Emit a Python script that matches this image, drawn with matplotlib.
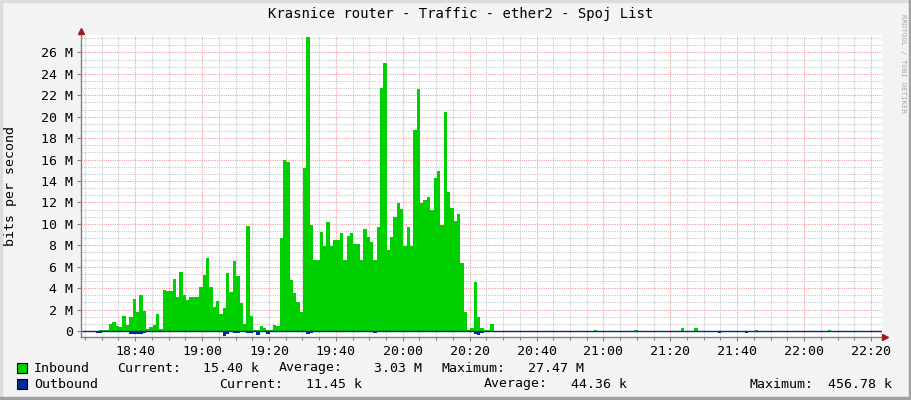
import numpy as np
import matplotlib.pyplot as plt
from matplotlib.ticker import FixedLocator, MultipleLocator
from matplotlib.patches import Rectangle

# inbound traffic in Mbit/s, one value per minute, first one at 18:32:12
inbound = [0.65, 0.84, 0.5, 0.4, 1.4, 0.56, 1.3, 3.0, 1.78, 3.36,
           1.87, 0.15, 0.4, 0.56, 1.59, 0.2, 3.83, 3.74, 3.74, 4.86,
           3.2, 5.5, 3.4, 2.9, 3.15, 3.15, 3.2, 4.14, 5.23, 6.79,
           4.14, 2.27, 2.8, 1.59, 2.18, 5.39, 3.68, 6.54, 5.14, 2.59,
           0.65, 9.8, 1.4, 0.06, 0.06, 0.47, 0.31, 0.1, 0.1, 0.56,
           0.5, 8.66, 16.0, 15.8, 4.77, 3.52, 2.74, 1.8, 15.2, 27.47,
           9.9, 6.6, 6.6, 9.2, 7.9, 10.2, 7.9, 8.5, 8.5, 9.1,
           6.6, 8.9, 9.1, 8.1, 8.1, 6.6, 9.5, 8.8, 8.3, 6.6,
           9.7, 22.7, 25.0, 7.6, 8.8, 10.6, 11.9, 11.4, 7.9, 9.7,
           7.9, 18.8, 22.6, 11.9, 12.2, 12.5, 11.3, 14.3, 14.9, 9.9,
           20.4, 13.0, 11.5, 10.3, 10.9, 6.3, 1.8, 0.1, 0.25, 4.55,
           1.34, 0.3, 0.05, 0.05, 0.65]
in_start = 32.2  # minutes after 18:00

# little inbound blips outside the transfer (minutes after 18:00, Mbit/s)
blip_t = [29.5, 30.5, 31.5, 177.9, 189.3, 203.4, 207.3, 225.3, 247.8]
blip_v = [0.1, 0.1, 0.1, 0.1, 0.1, 0.25, 0.25, 0.08, 0.1]

# outbound traffic (drawn below zero)
out_t = [28, 29, 38, 39, 40, 41, 42, 56, 57, 58, 59, 60, 61, 66, 67,
         69, 70, 73, 74, 76, 79, 91, 92, 111, 141, 142, 143,
         186, 192, 214, 222, 230]
out_v = [0.2, 0.2, 0.25, 0.3, 0.3, 0.28, 0.2, 0.08, 0.08, 0.08, 0.08, 0.08, 0.08, 0.457, 0.3,
         0.2, 0.15, 0.2, 0.2, 0.35, 0.25, 0.25, 0.2, 0.15, 0.3, 0.35, 0.2,
         0.12, 0.12, 0.15, 0.15, 0.12]

x_ticks = [40, 60, 80, 100, 120, 140, 160, 180, 200, 220, 240, 260]
x_labels = ['18:40', '19:00', '19:20', '19:40', '20:00', '20:20',
            '20:40', '21:00', '21:20', '21:40', '22:00', '22:20']
y_ticks = [0, 2, 4, 6, 8, 10, 12, 14, 16, 18, 20, 22, 24, 26]
y_labels = ['0'] + ['%d M' % v for v in y_ticks[1:]]

GREEN = '#00CF00'
BLUE = '#002A97'
MONO = 'DejaVu Sans Mono'
W, H = 911, 400

# one-minute grid over the whole window
t0 = 23.2
t = np.arange(t0, 265.0, 1.0)
in_full = np.zeros(len(t))
out_full = np.zeros(len(t))
for i, v in enumerate(inbound):
    in_full[int(round(in_start + i - t0))] = v
for bt, bv in zip(blip_t, blip_v):
    in_full[int(bt - t0)] = bv
for ot, ov in zip(out_t, out_v):
    out_full[int(round(ot - t0))] = ov

fig = plt.figure(figsize=(W / 100, H / 100), dpi=100)
fig.patch.set_facecolor('#F3F3F3')
ax = fig.add_axes([81 / W, 1 - 337 / H, 801 / W, 302 / H])
ax.set_facecolor('white')

ax.fill_between(t, 0, in_full, step='post', color=GREEN, lw=0, zorder=3)
ax.fill_between(t, 0, -out_full, step='post', color=BLUE, lw=0, zorder=3)
ax.axhline(0, color=BLUE, lw=1, zorder=4)

ax.set_xlim(23.8, 263.3)
ax.set_ylim(-0.56, 27.62)

ax.xaxis.set_major_locator(FixedLocator(x_ticks))
ax.set_xticklabels(x_labels)
ax.xaxis.set_minor_locator(MultipleLocator(5))
ax.yaxis.set_major_locator(FixedLocator(y_ticks))
ax.set_yticklabels(y_labels)
ax.yaxis.set_minor_locator(MultipleLocator(2 / 3))

ax.grid(which='minor', color='#c8c8c8', linestyle=(0, (1, 1)), lw=0.8, zorder=1)
ax.grid(which='major', color='#f2a0a0', linestyle=(0, (1, 1)), lw=0.8, zorder=2)
ax.set_axisbelow(True)

ax.tick_params(which='both', direction='out', color='#808080', width=0.8)
ax.tick_params(which='major', length=3, labelsize=9.5, pad=3)
ax.tick_params(which='minor', length=2)
ax.tick_params(axis='y', which='minor', length=0)
for lab in ax.get_xticklabels() + ax.get_yticklabels():
    lab.set_family(MONO)

for s in ['top', 'right']:
    ax.spines[s].set_visible(False)
for s in ['left', 'bottom']:
    ax.spines[s].set_color('#808080')
    ax.spines[s].set_linewidth(1)
    ax.spines[s].set_zorder(5)

# arrow heads on the axes
ax.plot([0], [1.012], marker='^', ms=5, color='#9b1c1c', transform=ax.transAxes,
        clip_on=False, zorder=6)
ax.plot([1.004], [0], marker='>', ms=5, color='#9b1c1c', transform=ax.transAxes,
        clip_on=False, zorder=6)

fig.text(11 / W, 1 - 186 / H, 'bits per second', family=MONO, fontsize=9.5,
         rotation=90, ha='center', va='center')

fig.text(461 / W, 1 - 14 / H, 'Krasnice router - Traffic - ether2 - Spoj List',
         family=MONO, fontsize=10, ha='center', va='center')
fig.text(903 / W, 1 - 64 / H, 'RRDTOOL / TOBI OETIKER', family=MONO, fontsize=5.4,
         color='#a8a8a8', rotation=270, ha='center', va='center')

# legend
fig.patches.append(Rectangle((17 / W, 1 - 373 / H), 10 / W, 10 / H, facecolor=GREEN,
                             edgecolor='black', lw=0.8, transform=fig.transFigure))
fig.patches.append(Rectangle((17 / W, 1 - 389 / H), 10 / W, 10 / H, facecolor=BLUE,
                             edgecolor='black', lw=0.8, transform=fig.transFigure))

rows = [
    (368, [('Inbound', 34, 'left'), ('Current:', 117, 'left'), ('15.40 k', 259, 'right'),
           ('Average:', 279, 'left'), ('3.03 M', 422, 'right'),
           ('Maximum:', 441, 'left'), ('27.47 M', 584, 'right')]),
    (384, [('Outbound', 34, 'left'), ('Current:', 219, 'left'), ('11.45 k', 362, 'right'),
           ('Average:', 484, 'left'), ('44.36 k', 627, 'right'),
           ('Maximum:', 749, 'left'), ('456.78 k', 892, 'right')]),
]
for y, items in rows:
    for txt, x, ha in items:
        fig.text(x / W, 1 - y / H, txt, family=MONO, fontsize=9.5, ha=ha, va='center')

# frame around the picture
fig.patches.append(Rectangle((0, 1 - 2 / H), 1, 2 / H, color='#dcdcdc', transform=fig.transFigure))
fig.patches.append(Rectangle((0, 0), 2 / W, 1, color='#dcdcdc', transform=fig.transFigure))
fig.patches.append(Rectangle((0, 0), 1, 3 / H, color='#a0a0a0', transform=fig.transFigure))
fig.patches.append(Rectangle((1 - 2 / W, 0), 2 / W, 1, color='#a0a0a0', transform=fig.transFigure))

fig.savefig('out.png', dpi=100, facecolor=fig.get_facecolor())
